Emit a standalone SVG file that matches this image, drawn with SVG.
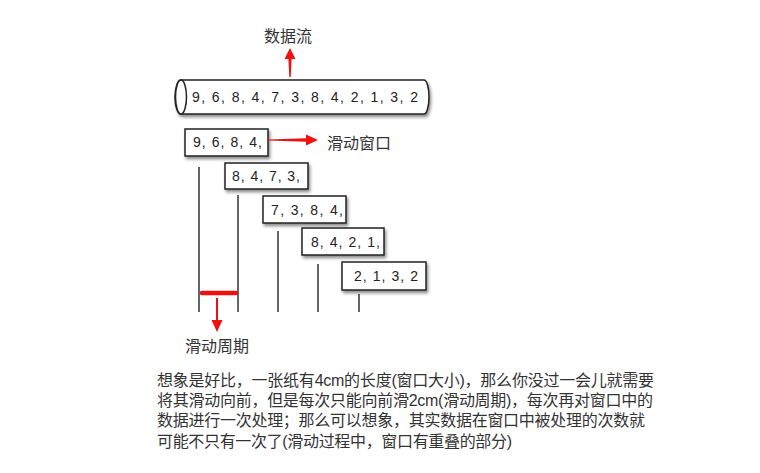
<svg xmlns="http://www.w3.org/2000/svg" width="760" height="473" viewBox="0 0 760 473">
<defs>
<filter id="sh" x="-10%" y="-20%" width="130%" height="160%">
<feDropShadow dx="1.5" dy="2.5" stdDeviation="1.8" flood-color="#000" flood-opacity="0.45"/>
</filter>
</defs>
<style>
.box{fill:#fff;stroke:#222;stroke-width:1.5;filter:url(#sh)}
.num{font-family:"Liberation Sans",Arial,sans-serif;font-size:14px;fill:#222}
.lbl{font-family:"Noto Sans CJK SC",sans-serif;font-size:16px;fill:#333}
.para{font-family:"Liberation Sans","Noto Sans CJK SC",sans-serif;font-size:16px;fill:#333}
.vl{stroke:#333;stroke-width:1.5;fill:none}
.red{fill:#f01010}
</style>
<rect width="760" height="473" fill="#fff"/>

<g id="stream">
<path d="M181,80 H424 A5,17 0 0 1 424,114 H181 A6,17 0 0 1 181,80 Z" class="box"/>
<ellipse cx="181" cy="97" rx="5.5" ry="17" fill="#fff" stroke="#222" stroke-width="1.5"/>
<text class="num" x="192" y="102" textLength="226" lengthAdjust="spacing">9, 6, 8, 4, 7, 3, 8, 4, 2, 1, 3, 2</text>
</g>
<g id="label-stream"><text class="lbl" x="264" y="42">数据流</text></g>

<g id="win1"><rect class="box" x="185" y="129" width="83" height="27"/><text class="num" x="193" y="147" textLength="69" lengthAdjust="spacing">9, 6, 8, 4,</text></g>
<g id="win2"><rect class="box" x="225" y="163" width="83" height="26"/><text class="num" x="232" y="181" textLength="68" lengthAdjust="spacing">8, 4, 7, 3,</text></g>
<g id="win3"><rect class="box" x="263" y="196" width="83" height="27"/><text class="num" x="271" y="215" textLength="72" lengthAdjust="spacing">7, 3, 8, 4,</text></g>
<g id="win4"><rect class="box" x="302" y="228" width="82" height="27"/><text class="num" x="311" y="247" textLength="69" lengthAdjust="spacing">8, 4,  2, 1,</text></g>
<g id="win5"><rect class="box" x="342" y="262" width="84" height="28"/><text class="num" x="354" y="281" textLength="64" lengthAdjust="spacing">2, 1,  3,  2</text></g>

<g id="label-window"><text class="lbl" x="327" y="149">滑动窗口</text></g>
<g id="label-period"><text class="lbl" x="185" y="352">滑动周期</text></g>

<g id="connectors">
<line class="vl" x1="199" y1="167" x2="199" y2="312"/>
<line class="vl" x1="238" y1="195" x2="238" y2="312"/>
<line class="vl" x1="278" y1="231" x2="278" y2="312"/>
<line class="vl" x1="318" y1="264" x2="318" y2="312"/>
<line class="vl" x1="359" y1="294" x2="359" y2="312"/>
<line x1="202" y1="293" x2="236" y2="293" stroke="#f01010" stroke-width="4.5" stroke-linecap="round"/>
<polygon class="red" points="290,48 295.5,59 291.6,59 290.7,77 289.3,77 288.4,59 284.5,59"/>
<polygon class="red" points="318,140 306,134.5 306,138.2 268,139.6 268,140.4 306,141.8 306,145.5"/>
<polygon class="red" points="217,332 211.5,320 216,320 216,298 218,298 218,320 222.5,320"/>
</g>

<g id="description">
<text class="para"><tspan x="157" y="386" textLength="497" lengthAdjust="spacing">想象是好比，一张纸有4cm的长度(窗口大小)，那么你没过一会儿就需要</tspan><tspan x="157" y="406" textLength="496" lengthAdjust="spacing">将其滑动向前，但是每次只能向前滑2cm(滑动周期)，每次再对窗口中的</tspan><tspan x="157" y="426" textLength="488" lengthAdjust="spacing">数据进行一次处理；那么可以想象，其实数据在窗口中被处理的次数就</tspan><tspan x="157" y="447" textLength="355" lengthAdjust="spacing">可能不只有一次了(滑动过程中，窗口有重叠的部分)</tspan></text>
</g>
</svg>
